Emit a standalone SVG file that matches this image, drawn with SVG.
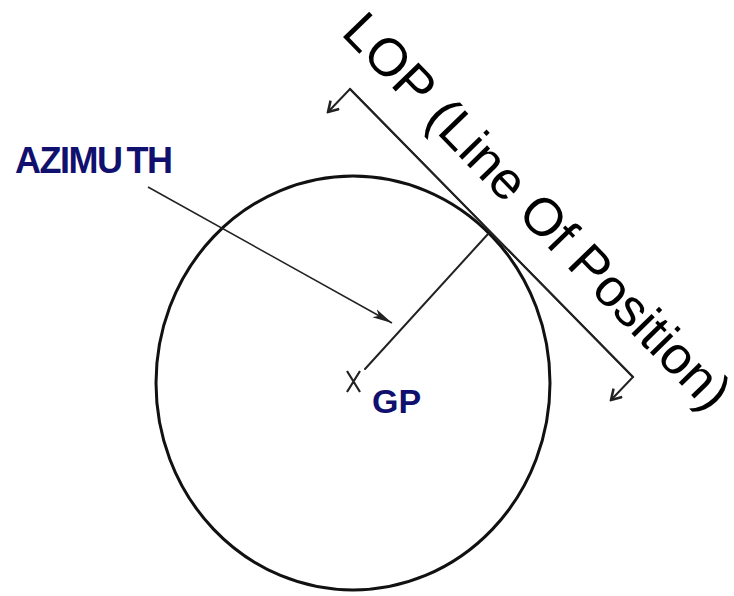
<svg xmlns="http://www.w3.org/2000/svg" width="734" height="596" viewBox="0 0 734 596">
<defs>
<style>
.ln{fill:none;stroke:#222;stroke-width:2;stroke-linecap:round}
.lbl{font-family:"Liberation Sans",Arial,sans-serif;font-weight:bold;fill:#10106e}
</style>
<marker id="vhead" markerWidth="14" markerHeight="14" refX="12" refY="7" orient="auto" markerUnits="userSpaceOnUse">
<path d="M2,1 L12,7 L2,13" fill="none" stroke="#222" stroke-width="2.5"/>
</marker>
<marker id="fhead" markerWidth="22" markerHeight="12" refX="20" refY="6" orient="auto" markerUnits="userSpaceOnUse">
<path d="M0,1.5 L20,6 L0,10.5 L5,6 Z" fill="#222"/>
</marker>
</defs>
<rect width="734" height="596" fill="#fff"/>
<g id="circle">
<ellipse cx="353" cy="383" rx="197" ry="207" fill="none" stroke="#111" stroke-width="3"/>
</g>
<g id="gp">
<path d="M347,371 L360,392 M360,371 L347,392" stroke="#222" stroke-width="2.2" fill="none"/>
<text class="lbl" x="372" y="413" font-size="34">GP</text>
</g>
<g id="azimuth-label">
<text class="lbl" x="15" y="173" font-size="36" letter-spacing="-1.5">AZIMU<tspan dx="5">TH</tspan></text>
</g>
<g id="lop-label">
<text x="340" y="34" transform="rotate(45.8 340 34)" font-family="'Liberation Sans',Arial,sans-serif" font-size="53" fill="#000">LOP (Line Of Position)</text>
</g>
<g id="connectors">
<line class="ln" x1="365" y1="369" x2="488" y2="234"/>
<polyline class="ln" points="350,89 633,377 611,400" marker-end="url(#vhead)"/>
<polyline class="ln" points="633,377 350,89 328,112" marker-end="url(#vhead)"/>
<line x1="148" y1="187" x2="392" y2="323" stroke="#222" stroke-width="1.5" marker-end="url(#fhead)"/>
</g>
</svg>
